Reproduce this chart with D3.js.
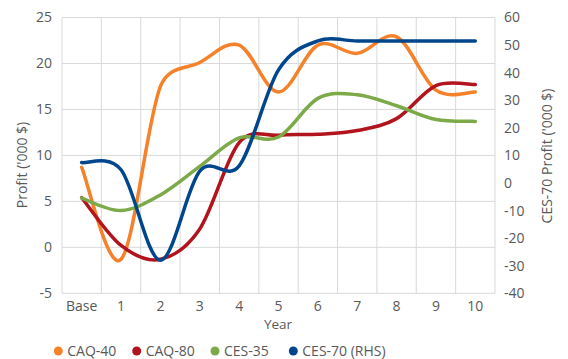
<!DOCTYPE html>
<html>
<head>
<meta charset="utf-8">
<script src="https://cdn.jsdelivr.net/npm/d3@7"></script>
<style>
  html, body { margin: 0; padding: 0; background: #fff; }
  svg { display: block; }
  text { font-family: "Open Sans", sans-serif; fill: #595959; }
</style>
</head>
<body>
<svg id="chart" width="568" height="359"></svg>
<script>
// Years on the x axis
const categories = ["Base", "1", "2", "3", "4", "5", "6", "7", "8", "9", "10"];

// Profit ('000 $), left axis
const caq40 = [8.7, -1.3, 17.5, 20.1, 22.0, 16.9, 22.0, 21.1, 22.9, 17.1, 16.9];
const caq80 = [5.4, 0.2, -1.3, 2.0, 11.4, 12.2, 12.3, 12.7, 14.0, 17.6, 17.7];
const ces35 = [5.35, 4.0, 5.7, 8.8, 11.9, 12.0, 16.2, 16.6, 15.4, 13.9, 13.7];

// CES-70 profit ('000 $), right axis
const ces70 = [7.4, 4.8, -28, 4.3, 6.2, 41.0, 51.5, 51.5, 51.5, 51.5, 51.5];

// Axis ticks
const leftTicks = [-5, 0, 5, 10, 15, 20, 25];
const rightTicks = [-40, -30, -20, -10, 0, 10, 20, 30, 40, 50, 60];

const seriesNames = ["CAQ-40", "CAQ-80", "CES-35", "CES-70 (RHS)"];
const seriesColors = ["#f5822a", "#b2141d", "#7caa48", "#00468c"];

// Smoothed Bezier curve: control points at 1/6 of the neighbour chord,
// capped at half of the segment length to keep overshoot small.
function smoothCurve(context) {
  let pts;
  const dist = (a, b) => Math.hypot(b[0] - a[0], b[1] - a[1]);
  return {
    areaStart() {}, areaEnd() {},
    lineStart() { pts = []; },
    point(x, y) { pts.push([+x, +y]); },
    lineEnd() {
      const n = pts.length;
      if (!n) return;
      context.moveTo(pts[0][0], pts[0][1]);
      for (let i = 0; i < n - 1; i++) {
        const p0 = pts[Math.max(i - 1, 0)], p1 = pts[i], p2 = pts[i + 1], p3 = pts[Math.min(i + 2, n - 1)];
        const d12 = dist(p1, p2), d02 = dist(p0, p2), d13 = dist(p1, p3);
        let f0 = 1 / 6, f1 = 1 / 6;
        if (d02 > 0 && d02 / 6 >= d12 / 2) f0 = d12 / d02 / 2;
        if (d13 > 0 && d13 / 6 >= d12 / 2) f1 = d12 / d13 / 2;
        context.bezierCurveTo(
          p1[0] + (p2[0] - p0[0]) * f0, p1[1] + (p2[1] - p0[1]) * f0,
          p2[0] - (p3[0] - p1[0]) * f1, p2[1] - (p3[1] - p1[1]) * f1,
          p2[0], p2[1]);
      }
    }
  };
}

const svg = d3.select("#chart");
const plot = { left: 62, right: 495, top: 17.5, bottom: 293.3 };

const x = d3.scaleBand().domain(categories).range([plot.left, plot.right]).padding(0);
const cx = c => x(c) + x.bandwidth() / 2;
const yL = d3.scaleLinear().domain([-5, 25]).range([plot.bottom, plot.top]);
const yR = d3.scaleLinear().domain([-40, 60]).range([plot.bottom, plot.top]);

// Grid
const grid = svg.append("g").attr("stroke", "#d9d9d9").attr("stroke-width", 1);
leftTicks.forEach(v => {
  grid.append("line")
    .attr("x1", plot.left).attr("x2", plot.right)
    .attr("y1", yL(v)).attr("y2", yL(v));
});
const edges = categories.map(c => x(c)).concat([plot.right]);
edges.forEach(e => {
  grid.append("line")
    .attr("x1", e).attr("x2", e)
    .attr("y1", plot.top).attr("y2", plot.bottom);
});

// Axes
const fontSize = 14;
const fmt = d => d < 0 ? "-" + Math.abs(d) : d;
const leftAxis = svg.append("g")
  .attr("transform", `translate(${plot.left},0)`)
  .call(d3.axisLeft(yL).tickValues(leftTicks).tickSize(0).tickPadding(10).tickFormat(fmt));
const rightAxis = svg.append("g")
  .attr("transform", `translate(${plot.right},0)`)
  .call(d3.axisRight(yR).tickValues(rightTicks).tickSize(0).tickPadding(9).tickFormat(fmt));
const bottomAxis = svg.append("g")
  .attr("transform", `translate(0,${plot.bottom})`)
  .call(d3.axisBottom(x).tickSize(0).tickPadding(8));
[leftAxis, rightAxis, bottomAxis].forEach(a => {
  a.select(".domain").remove();
  a.selectAll("text")
    .attr("fill", "#595959")
    .style("font-family", "'Open Sans', sans-serif")
    .style("font-size", fontSize + "px");
});

// Axis titles
svg.append("text")
  .attr("x", 278).attr("y", 329)
  .attr("text-anchor", "middle")
  .style("font-size", "13.5px")
  .text("Year");
svg.append("text")
  .attr("transform", "translate(27,165) rotate(-90)")
  .attr("text-anchor", "middle")
  .style("font-size", fontSize + "px")
  .text("Profit ('000 $)");
svg.append("text")
  .attr("transform", "translate(552,156) rotate(-90)")
  .attr("text-anchor", "middle")
  .style("font-size", fontSize + "px")
  .text("CES-70 Profit ('000 $)");

// Lines
const lineL = d3.line()
  .x((d, i) => cx(categories[i]))
  .y(d => yL(d))
  .curve(smoothCurve);
const lineR = d3.line()
  .x((d, i) => cx(categories[i]))
  .y(d => yR(d))
  .curve(smoothCurve);

const lines = svg.append("g")
  .attr("fill", "none")
  .attr("stroke-width", 3.5)
  .attr("stroke-linecap", "round")
  .attr("stroke-linejoin", "round");

lines.append("path").attr("d", lineL(caq40)).attr("stroke", seriesColors[0]);
lines.append("path").attr("d", lineL(caq80)).attr("stroke", seriesColors[1]);
lines.append("path").attr("d", lineL(ces35)).attr("stroke", seriesColors[2]);
lines.append("path").attr("d", lineR(ces70)).attr("stroke", seriesColors[3]);

// Legend
const legendX = [58.3, 136.7, 215, 293.3];
const legend = svg.append("g");
seriesNames.forEach((name, i) => {
  legend.append("circle")
    .attr("cx", legendX[i]).attr("cy", 351)
    .attr("r", 4.5)
    .attr("fill", seriesColors[i]);
  legend.append("text")
    .attr("x", legendX[i] + 9).attr("y", 356)
    .style("font-size", fontSize + "px")
    .text(name);
});
</script>
</body>
</html>
